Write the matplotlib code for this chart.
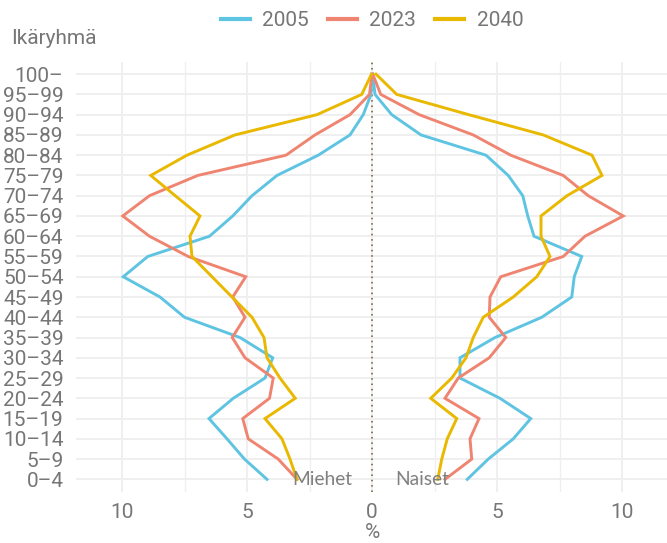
import matplotlib
matplotlib.use("Agg")
import matplotlib.pyplot as plt
from matplotlib.lines import Line2D
import numpy as np

age_groups = ["0–4", "5–9", "10–14", "15–19", "20–24", "25–29", "30–34", "35–39",
              "40–44", "45–49", "50–54", "55–59", "60–64", "65–69", "70–74", "75–79",
              "80–84", "85–89", "90–94", "95–99", "100–"]

# Men (%), ordered from 0-4 upwards
men_2005 = [4.2, 5.1, 5.8, 6.52, 5.55, 4.28, 3.97, 5.28, 7.5, 8.48, 9.95, 8.97, 6.5,
            5.57, 4.8, 3.8, 2.15, 0.88, 0.35, 0.04, 0.0]
men_2023 = [3.0, 3.75, 4.95, 5.17, 4.1, 3.95, 5.08, 5.59, 5.08, 5.57, 5.05, 7.35, 8.9,
            9.97, 8.9, 6.97, 3.44, 2.28, 0.88, 0.1, 0.0]
men_2040 = [3.0, 3.28, 3.6, 4.28, 3.07, 3.68, 4.2, 4.32, 4.8, 5.6, 6.4, 7.2, 7.28,
            6.88, 7.87, 8.85, 7.4, 5.48, 2.2, 0.41, 0.02]

# Women (%)
women_2005 = [3.81, 4.65, 5.65, 6.35, 5.12, 3.52, 3.52, 4.92, 6.79, 7.99, 8.09, 8.39,
              6.48, 6.23, 6.03, 5.45, 4.56, 1.96, 0.79, 0.12, 0.03]
women_2023 = [2.92, 3.99, 3.92, 4.28, 2.92, 3.45, 4.69, 5.35, 4.69, 4.72, 5.15, 7.65,
              8.52, 10.05, 8.65, 7.65, 5.55, 4.05, 1.89, 0.35, 0.03]
women_2040 = [2.63, 2.79, 3.01, 3.39, 2.35, 3.19, 3.76, 4.05, 4.45, 5.65, 6.59, 7.12,
              6.76, 6.76, 7.8, 9.2, 8.8, 6.85, 3.87, 0.99, 0.16]

years = ["2005", "2023", "2040"]
colors = ["#5ec4e2", "#ef8571", "#e9b800"]
x_ticks = [-10, -5, 0, 5, 10]
x_tick_labels = ["10", "5", "0", "5", "10"]

W, H = 667, 543
fig = plt.figure(figsize=(W / 100, H / 100), dpi=100)
ax = fig.add_axes([76 / W, (H - 491.5) / H, (667 - 76) / W, (491.5 - 62) / H])

FONT = "Roboto"
txt_color = "#767676"
grid_color = "#efefef"

y = np.arange(len(age_groups))

# grid
for v in np.arange(-12.5, 12.6, 2.5):
    major = abs(v % 5) < 1e-9
    ax.axvline(v, color=grid_color, lw=1.4 if major else 0.9, zorder=0)
for yi in y:
    ax.axhline(yi, color=grid_color, lw=1.4, zorder=0)

ax.axvline(0, color="#6e5a2a", lw=1.1, ls=(0, (1, 2.5)), zorder=1)

men = [men_2005, men_2023, men_2040]
women = [women_2005, women_2023, women_2040]
for i in range(3):
    ax.plot(-np.array(men[i]), y, color=colors[i], lw=2.1, zorder=2 + i,
            solid_joinstyle="miter")
    ax.plot(np.array(women[i]), y, color=colors[i], lw=2.1, zorder=2 + i,
            solid_joinstyle="miter")

ax.set_xlim(-11.84, 11.8)
ax.set_ylim(-0.6, 20.6)
ax.set_xticks(x_ticks)
ax.set_xticklabels(x_tick_labels)
ax.set_yticks(y)
ax.set_yticklabels(age_groups)
ax.tick_params(length=0, colors=txt_color, labelsize=15)
ax.tick_params(axis="x", pad=8)
ax.tick_params(axis="y", pad=9)
for lab in ax.get_xticklabels() + ax.get_yticklabels():
    lab.set_fontfamily(FONT)
for s in ax.spines.values():
    s.set_visible(False)

ax.text(-2.0, 0, "Miehet", ha="center", va="center", fontsize=13.8,
        color="#808080", family="Lato", zorder=10)
ax.text(2.0, 0, "Naiset", ha="center", va="center", fontsize=13.8,
        color="#808080", family="Lato", zorder=10)

fig.text(372 / W, 1 - 533 / H, "%", ha="center", va="center", fontsize=15,
         color=txt_color, family=FONT)
fig.text(11 / W, 1 - 38 / H, "Ikäryhmä", ha="left", va="center", fontsize=15,
         color=txt_color, family=FONT)

handles = [Line2D([0], [0], color=c, lw=3) for c in colors]
leg = fig.legend(handles, years, loc="center", bbox_to_anchor=(372 / W, 1 - 21 / H),
                 ncol=3, frameon=False, handlelength=1.4,
                 handletextpad=0.6, columnspacing=0.9,
                 prop={"family": FONT, "size": 15})
for t in leg.get_texts():
    t.set_color(txt_color)

fig.savefig("out.png", dpi=100, facecolor="white")
